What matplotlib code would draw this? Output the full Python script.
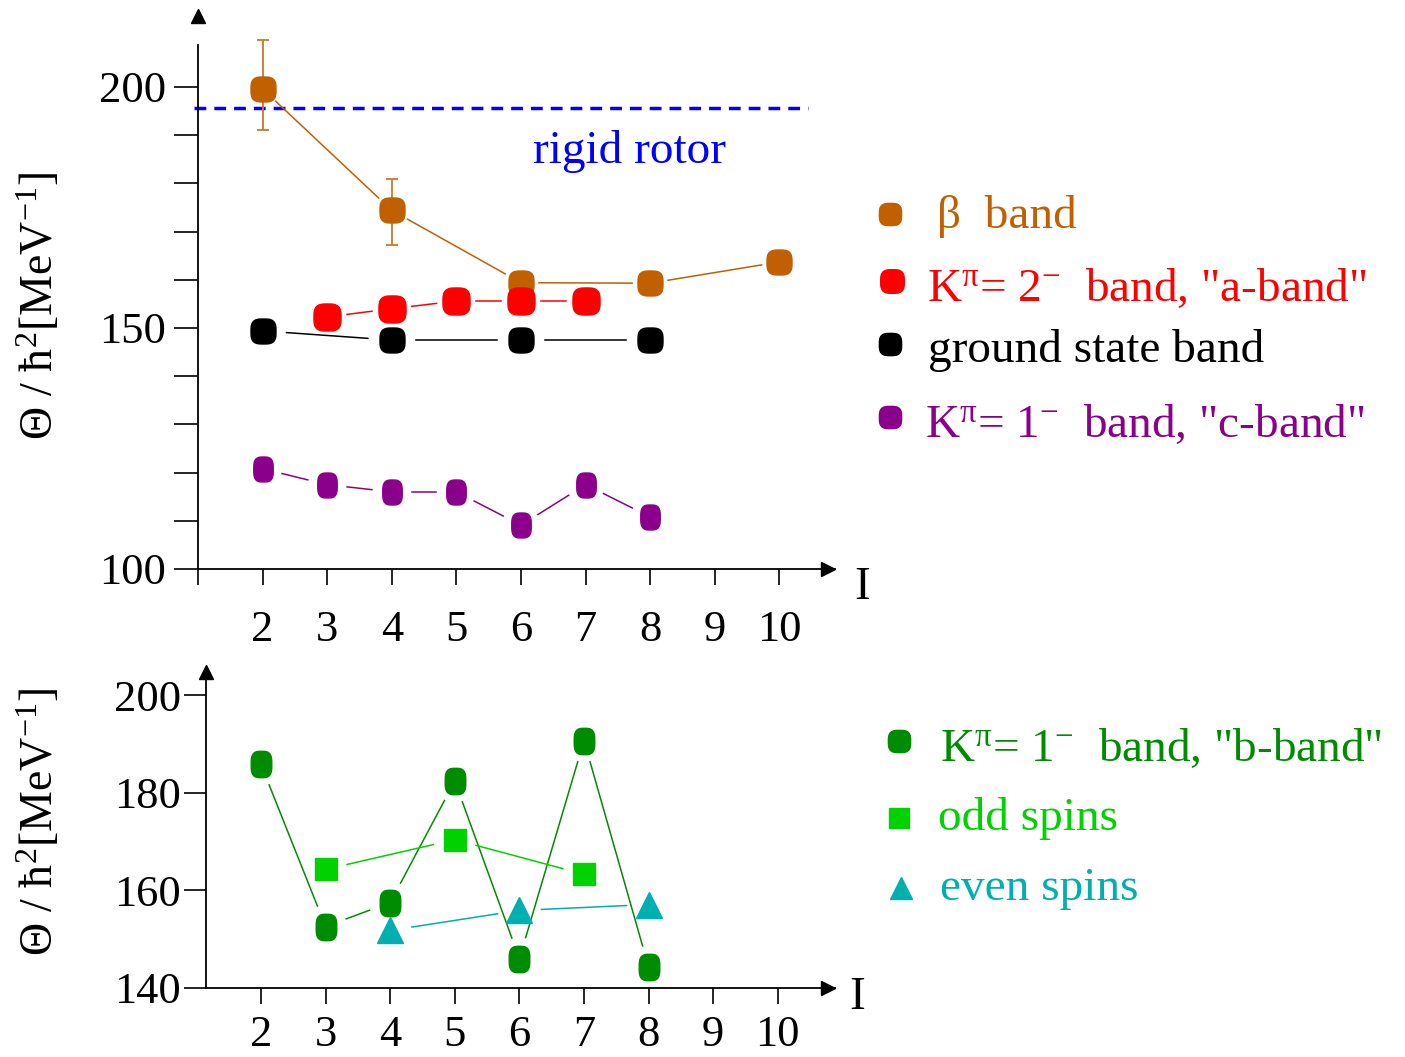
import numpy as np
import matplotlib
matplotlib.use("Agg")
import matplotlib.pyplot as plt
from matplotlib.path import Path

plt.rcParams['font.family'] = ['Liberation Serif', 'DejaVu Serif']
plt.rcParams['mathtext.fontset'] = 'custom'
plt.rcParams['mathtext.rm'] = 'Liberation Serif'
plt.rcParams['mathtext.it'] = 'Liberation Serif:italic'
plt.rcParams['mathtext.bf'] = 'Liberation Serif:bold'

# moments of inertia Theta/hbar^2 [MeV^-1] vs spin I
beta_spins = [2, 4, 6, 8, 10]
beta_theta = [199.6, 174.4, 159.4, 159.3, 163.7]
beta_err_lo = [8.5, 7.1]          # only I=2 and I=4 carry error bars
beta_err_hi = [10.1, 6.6]

a_spins = [3, 4, 5, 6, 7]
a_theta = [152.3, 154.0, 155.6, 155.6, 155.6]

gs_spins = [2, 4, 6, 8]
gs_theta = [149.4, 147.5, 147.5, 147.5]

c_spins = [2, 3, 4, 5, 6, 7, 8]
c_theta = [120.8, 117.5, 116.0, 116.0, 109.1, 117.5, 110.8]

RIGID_ROTOR = 195.6

b_spins = [2, 3, 4, 5, 6, 7, 8]
b_theta = [185.8, 152.6, 157.5, 182.4, 146.0, 190.7, 144.3]
odd_spins = [3, 5, 7]
odd_theta = [164.3, 170.4, 163.3]
even_spins = [4, 6, 8]
even_theta = [151.8, 155.9, 157.1]

top_xlabels = ['', '2', '3', '4', '5', '6', '7', '8', '9', '10']
bot_xlabels = ['2', '3', '4', '5', '6', '7', '8', '9', '10']

ORANGE = '#C06000'
RED = '#FF0000'
PURPLE = '#8B008B'
DKGREEN = '#008C00'
LTGREEN = '#00D200'
TEAL = '#00AFAF'
BLUE = '#0000FF'


def squircle(aspect=1.0, n=3.2):
    t = np.linspace(0, 2 * np.pi, 81)
    c, s = np.cos(t), np.sin(t)
    x = np.sign(c) * np.abs(c) ** (2 / n) * aspect
    y = np.sign(s) * np.abs(s) ** (2 / n)
    return Path(np.column_stack([x, y]), closed=True)


ROUND = squircle()
TALL = squircle(0.78)

W, H = 1405, 1057
fig = plt.figure(figsize=(W / 100, H / 100), dpi=100)


def px_axes(left, top, right, bottom):
    return fig.add_axes([left / W, 1 - bottom / H, (right - left) / W, (bottom - top) / H])


def gapped_line(ax, xs, ys, gap, **kw):
    # segments between neighbouring points, stopped short of the markers
    pts = ax.transData.transform(np.column_stack([xs, ys]))
    inv = ax.transData.inverted()
    for p, q in zip(pts[:-1], pts[1:]):
        u = (q - p) / np.hypot(*(q - p))
        seg = inv.transform(np.array([p + gap * u, q - gap * u]))
        ax.plot(seg[:, 0], seg[:, 1], **kw)


def arrow_axes(ax, xlen_px, y_arrow):
    for side in ['top', 'right']:
        ax.spines[side].set_visible(False)
    for side in ['left', 'bottom']:
        ax.spines[side].set_linewidth(1.3)
    ax.plot(1 - 7 / xlen_px, 0, '>', color='k', ms=10, transform=ax.transAxes, clip_on=False)
    ax.plot(0, y_arrow, '^', color='k', ms=10.5, transform=ax.transAxes, clip_on=False)
    ax.set_facecolor('none')


XSCALE = 64.6  # px per spin unit

# ---------------- upper panel ----------------
ax1 = px_axes(198, 45, 835, 569)
ax1.set_xlim(1, 1 + 637 / XSCALE)
ax1.set_ylim(100, 100 + 524 / 4.82)
arrow_axes(ax1, 637, (569 - 15.5) / 524)

ax1.set_xticks(range(1, 11))
ax1.set_xticklabels(top_xlabels)
ax1.set_yticks([100, 150, 200])
ax1.set_yticks(range(110, 200, 10), minor=True)
ax1.tick_params(axis='x', direction='out', length=11.5, width=1.2, pad=18, labelsize=32)
ax1.tick_params(axis='y', which='both', direction='out', length=17, width=1.2, pad=6, labelsize=32)

ax1.axhline(RIGID_ROTOR, xmin=-0.006, xmax=0.958, color=BLUE, lw=2.5,
            linestyle=(0, (3.4, 2.3)), clip_on=False)
ax1.text(7.68, 184.3, 'rigid rotor', color=BLUE, fontsize=34, ha='center', va='baseline')

gapped_line(ax1, beta_spins, beta_theta, 18, color=ORANGE, lw=1.1)
gapped_line(ax1, a_spins, a_theta, 20, color=RED, lw=1.1)
gapped_line(ax1, gs_spins, gs_theta, 24, color='k', lw=1.1)
gapped_line(ax1, c_spins, c_theta, 20, color=PURPLE, lw=1.1)

eb = ax1.errorbar(beta_spins[:2], beta_theta[:2], yerr=[beta_err_lo, beta_err_hi], fmt='none',
                  ecolor='#CC7828', elinewidth=1.3, capsize=4.3, capthick=1.3, zorder=2)
for art in list(eb.lines[1]) + list(eb.lines[2]):
    art.set_clip_on(False)
ax1.plot(beta_spins, beta_theta, ls='none', marker=ROUND, ms=18, color=ORANGE, zorder=3)
ax1.plot(a_spins, a_theta, ls='none', marker=ROUND, ms=19.5, color=RED, zorder=4)
ax1.plot(gs_spins, gs_theta, ls='none', marker=ROUND, ms=18, color='k', zorder=4)
ax1.plot(c_spins, c_theta, ls='none', marker=TALL, ms=18, color=PURPLE, zorder=4)

# ---------------- lower panel ----------------
ax2 = px_axes(206, 678, 835, 988)
x0 = 2 - 55 / XSCALE
ax2.set_xlim(x0, x0 + 629 / XSCALE)
ax2.set_ylim(140, 140 + 310 / 4.88)
arrow_axes(ax2, 629, (988 - 672) / 310)

ax2.set_xticks(range(2, 11))
ax2.set_xticklabels(bot_xlabels)
ax2.set_yticks([140, 160, 180, 200])
ax2.tick_params(axis='x', direction='out', length=11.5, width=1.2, pad=8, labelsize=32)
ax2.tick_params(axis='y', direction='out', length=16, width=1.2, pad=2, labelsize=32)

gapped_line(ax2, b_spins, b_theta, 22, color=DKGREEN, lw=1.1)
gapped_line(ax2, odd_spins, odd_theta, 22, color=LTGREEN, lw=1.1)
gapped_line(ax2, even_spins, even_theta, 22, color=TEAL, lw=1.1)

ax2.plot(b_spins, b_theta, ls='none', marker=TALL, ms=19, color=DKGREEN, zorder=4)
ax2.plot(odd_spins, odd_theta, ls='none', marker='s', ms=16, color=LTGREEN, zorder=4)
ax2.plot(even_spins, even_theta, ls='none', marker='^', ms=19, color=TEAL, zorder=4)

# ---------------- labels and legend ----------------
ylab = 'Θ / ħ$^{2}$[MeV$^{-1}$]'
fig.text(40 / W, 1 - 306 / H, ylab, rotation=90, ha='center', va='center', fontsize=33)
fig.text(40 / W, 1 - 822 / H, ylab, rotation=90, ha='center', va='center', fontsize=33)

ov = fig.add_axes([0, 0, 1, 1])
ov.set_xlim(0, W)
ov.set_ylim(H, 0)
ov.axis('off')

ov.text(862, 588, 'I', fontsize=34, ha='center', va='center')
ov.text(857, 998, 'I', fontsize=34, ha='center', va='center')

legend_rows = [
    (ROUND, ORANGE, 16, 890, 214, 937, 228, 'β  band'),
    (ROUND, RED, 17, 892, 281, 927, 301, r'$\mathrm{K}^{\mathrm{π}}$= 2$^{-}$  band, "a-band"'),
    (ROUND, 'k', 16, 890, 344, 928, 362, 'ground state band'),
    (ROUND, PURPLE, 16, 890, 417, 925, 437, r'$\mathrm{K}^{\mathrm{π}}$= 1$^{-}$  band, "c-band"'),
    (ROUND, DKGREEN, 16, 899, 741, 940, 761, r'$\mathrm{K}^{\mathrm{π}}$= 1$^{-}$  band, "b-band"'),
    ('s', LTGREEN, 14, 899, 818, 938, 830, 'odd spins'),
    ('^', TEAL, 16, 901, 888, 940, 900, 'even spins'),
]
for mk, col, ms, mx, my, tx, ty, label in legend_rows:
    ov.plot(mx, my, ls='none', marker=mk, ms=ms, color=col)
    ov.text(tx, ty, label, color=col, fontsize=34, ha='left', va='baseline')

fig.savefig('out.png', dpi=100)
